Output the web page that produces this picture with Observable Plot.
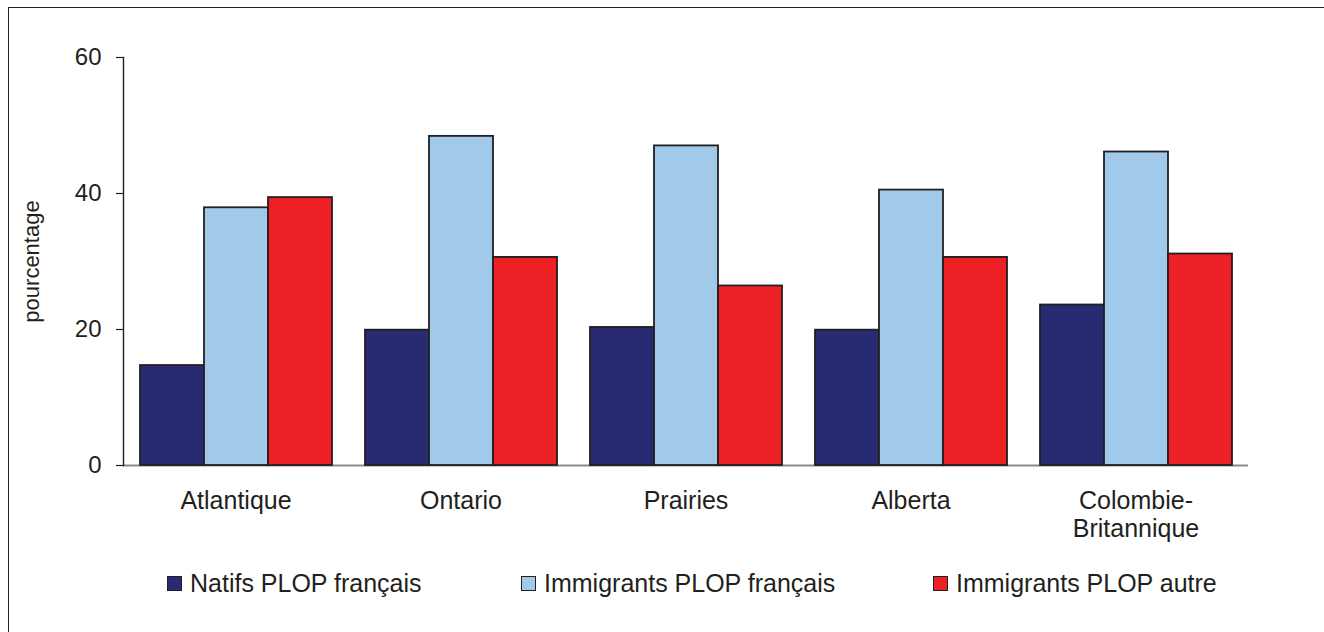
<!DOCTYPE html>
<html>
<head>
<meta charset="utf-8">
<script src="https://cdn.jsdelivr.net/npm/d3@7"></script>
<script src="https://cdn.jsdelivr.net/npm/@observablehq/plot@0.6"></script>
<style>
  html, body { margin: 0; padding: 0; background: #fff; }
  #wrap { position: relative; width: 1324px; height: 632px; overflow: hidden; font-family: "Liberation Sans", Arial, sans-serif; color: #231f20; }
  #border { position: absolute; left: 8px; top: 7px; right: -10px; bottom: -10px; border-left: 1.5px solid #231f20; border-top: 1.5px solid #231f20; }
  #chart { position: absolute; left: 0; top: 0; }
  #legend { position: absolute; top: 569px; left: 0; width: 1324px; height: 28px; }
  .item { position: absolute; top: 0; display: flex; align-items: center; font-size: 25px; line-height: 28px; white-space: nowrap; }
  .sw { width: 13px; height: 13px; border: 1.6px solid #231f20; margin-right: 8px; }
</style>
</head>
<body>
<div id="wrap">
  <div id="border"></div>
  <div id="chart"></div>
  <div id="legend"></div>
</div>
<script>
const categories = ["Atlantique", "Ontario", "Prairies", "Alberta", "Colombie-Britannique"];
const series = ["Natifs PLOP français", "Immigrants PLOP français", "Immigrants PLOP autre"];
const natifsFrancais = [14.7, 19.9, 20.3, 19.9, 23.6];
const immigrantsFrancais = [37.9, 48.4, 47.0, 40.5, 46.1];
const immigrantsAutre = [39.4, 30.6, 26.4, 30.6, 31.1];
const colors = ["#282a72", "#a0c9ea", "#ec2025"];
const yTicks = [0, 20, 40, 60];
const yLabel = "pourcentage";

const valuesBySeries = [natifsFrancais, immigrantsFrancais, immigrantsAutre];
const data = [];
categories.forEach((region, i) => {
  series.forEach((s, j) => data.push({region, series: s, value: valuesBySeries[j][i]}));
});

const chart = Plot.plot({
  width: 1324,
  height: 560,
  marginLeft: 122,
  marginRight: 76,
  marginTop: 57,
  marginBottom: 95,
  style: {fontFamily: "'Liberation Sans', Arial, sans-serif", color: "#231f20", background: "transparent", overflow: "visible"},
  fx: {domain: categories, padding: 0},
  x: {domain: series, axis: null, paddingInner: 0, paddingOuter: 0.235},
  y: {domain: [0, 60]},
  color: {domain: series, range: colors},
  marks: [
    Plot.ruleY([0], {stroke: "#8a8a8a", strokeWidth: 2.2}),
    Plot.barY(data, {fx: "region", x: "series", y: "value", fill: "series", stroke: "#231f20", strokeWidth: 1.8}),
    Plot.frame({anchor: "left", facetAnchor: "left", stroke: "#231f20", strokeWidth: 1.4}),
    Plot.axisY({ticks: yTicks, tickSize: 7, tickPadding: 15, fontSize: 24, label: null, strokeWidth: 1.2}),
    Plot.axisY({ticks: [], label: yLabel, labelArrow: "none", labelAnchor: "center", labelOffset: 100, fontSize: 22}),
    Plot.axisFx({anchor: "bottom", tickSize: 0, tickPadding: 24, fontSize: 25, lineHeight: 1.1, label: null,
      tickFormat: d => d.replace("-", "-\n")})
  ]
});
document.getElementById("chart").appendChild(chart);

const legendLeft = [167, 521, 933];
const legend = document.getElementById("legend");
series.forEach((s, j) => {
  const item = document.createElement("div");
  item.className = "item";
  item.style.left = legendLeft[j] + "px";
  const sw = document.createElement("span");
  sw.className = "sw";
  sw.style.background = colors[j];
  const t = document.createElement("span");
  t.textContent = s;
  item.appendChild(sw);
  item.appendChild(t);
  legend.appendChild(item);
});
</script>
</body>
</html>
